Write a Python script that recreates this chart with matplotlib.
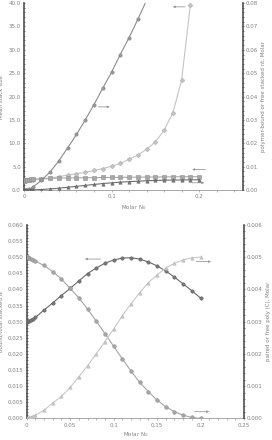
import matplotlib
matplotlib.use('Agg')
import matplotlib.pyplot as plt
from matplotlib.ticker import MultipleLocator, FuncFormatter

# ---- top panel data (x = Molar N0) ----
x_top = [0, 0.001, 0.002, 0.004, 0.006, 0.008, 0.01, 0.02, 0.03, 0.04, 0.05, 0.06, 0.07,
         0.08, 0.09, 0.1, 0.11, 0.12, 0.13, 0.14]
# polymer-bound stacked nt, Molar (right axis)
bound_nt = [0, 0.00001, 0.00004, 0.00015, 0.0003, 0.0006, 0.0012, 0.0042, 0.0078, 0.0126,
            0.0181, 0.0238, 0.0300, 0.0366, 0.0436, 0.0504, 0.0580, 0.0652, 0.0730, 0.0812]

x_stack = [0, 0.001, 0.002, 0.004, 0.006, 0.008, 0.01, 0.02, 0.03, 0.04, 0.05, 0.06, 0.07,
           0.08, 0.09, 0.1, 0.11, 0.12, 0.13, 0.14, 0.15, 0.16, 0.17, 0.18, 0.19]
# mean stack size (left axis)
stack_size = [2.0, 2.02, 2.04, 2.08, 2.12, 2.16, 2.2, 2.4, 2.6, 2.9, 3.2, 3.5, 3.8,
              4.2, 4.6, 5.1, 5.7, 6.6, 7.5, 8.7, 10.3, 12.8, 16.5, 23.5, 39.6]

x_flat = [0, 0.001, 0.002, 0.004, 0.006, 0.008, 0.01, 0.02, 0.03, 0.04, 0.05, 0.06, 0.07,
          0.08, 0.09, 0.1, 0.11, 0.12, 0.13, 0.14, 0.15, 0.16, 0.17, 0.18, 0.19, 0.2]
# second left-axis series
stack_flat = [2.0, 2.05, 2.1, 2.18, 2.24, 2.28, 2.3, 2.4, 2.5, 2.55, 2.6, 2.6, 2.65,
              2.65, 2.7, 2.7, 2.72, 2.74, 2.76, 2.78, 2.8, 2.82, 2.83, 2.84, 2.85, 2.86]
# free stacked nt, Molar (right axis)
free_nt = [0, 0.00001, 0.00002, 0.00004, 0.00006, 0.00008, 0.0001, 0.00024, 0.0005, 0.0008,
           0.0012, 0.0016, 0.002, 0.0024, 0.0028, 0.0031, 0.0034, 0.0036, 0.0038, 0.004,
           0.0041, 0.0042, 0.0043, 0.0043, 0.0044, 0.0044]

# ---- bottom panel data ----
x_bot = [0, 0.001, 0.002, 0.003, 0.005, 0.007, 0.01, 0.02, 0.03, 0.04, 0.05, 0.06, 0.07,
         0.08, 0.09, 0.1, 0.11, 0.12, 0.13, 0.14, 0.15, 0.16, 0.17, 0.18, 0.19, 0.2]
# bound/total stacked N (left axis)
bound_frac = [0.0300, 0.0301, 0.0302, 0.0303, 0.0305, 0.0308, 0.0313, 0.0336, 0.0358, 0.0381,
              0.0403, 0.0426, 0.0449, 0.0466, 0.0481, 0.0491, 0.0497, 0.0498, 0.0494, 0.0485,
              0.0473, 0.0457, 0.0438, 0.0417, 0.0396, 0.0373]
# paired poly(C), Molar (right axis)
paired = [0, 0.00001, 0.00002, 0.00003, 0.00005, 0.00007, 0.0001, 0.00025, 0.00048, 0.00068,
          0.00096, 0.00129, 0.00163, 0.0020, 0.00238, 0.00277, 0.00318, 0.00355, 0.0039, 0.00421,
          0.00445, 0.00466, 0.00481, 0.00491, 0.00498, 0.0050]
# free poly(C), Molar (right axis)
free_c = [0.0050, 0.00499, 0.00498, 0.00497, 0.00495, 0.00492, 0.00488, 0.00474, 0.00455,
          0.00432, 0.00403, 0.00374, 0.00339, 0.00302, 0.00263, 0.00224, 0.00185, 0.00147,
          0.00112, 0.00083, 0.00057, 0.00036, 0.00021, 0.0001, 0.00003, 0.0]

tick_col = '#808080'
spine_col = '#505050'


def style_axes(ax, ax2):
    for a in (ax, ax2):
        for s in a.spines.values():
            s.set_visible(False)
        a.tick_params(labelsize=4, colors=tick_col, length=1.5, width=0.5, pad=1.5)
        a.tick_params(which='minor', length=1.2, width=0.5, colors=spine_col)
    ax.spines['left'].set_visible(True)
    ax.spines['left'].set_color(spine_col)
    ax.spines['left'].set_linewidth(1.2)
    ax.spines['bottom'].set_visible(True)
    ax.spines['bottom'].set_color('#999999')
    ax.spines['bottom'].set_linewidth(0.6)
    ax2.spines['right'].set_visible(True)
    ax2.spines['right'].set_color(spine_col)
    ax2.spines['right'].set_linewidth(1.2)
    ax.tick_params(axis='y', which='both', direction='inout', colors=spine_col, labelcolor=tick_col)
    ax2.tick_params(axis='y', which='both', direction='inout', colors=spine_col, labelcolor=tick_col)
    ax.tick_params(axis='x', which='both', direction='out', colors='#999999', labelcolor=tick_col)


def arrow(ax, x0, x1, y):
    ax.annotate('', xy=(x1, y), xytext=(x0, y),
                arrowprops=dict(arrowstyle='-|>', color='#9a9a9a', lw=0.6,
                                mutation_scale=3, shrinkA=0, shrinkB=0))


def xfmt(v, pos):
    if abs(v) < 1e-9:
        return '0'
    return ('%.2f' % v).rstrip('0').rstrip('.')


fig = plt.figure(figsize=(2.72, 4.40), dpi=100)

# ---------------- top panel ----------------
ax = fig.add_axes([0.088, 0.568, 0.805, 0.425])
ax2 = ax.twinx()
ax.set_xlim(0, 0.25)
ax.set_ylim(0, 40)
ax2.set_ylim(0, 0.08)

ax.plot(x_stack, stack_size, color='#c4c4c4', lw=0.8, marker='D', ms=2.4,
        mfc='#c4c4c4', mec='#b0b0b0', mew=0.4, zorder=3)
ax.plot(x_flat, stack_flat, color='#a8a8a8', lw=0.8, marker='s', ms=2.4,
        mfc='#a8a8a8', mec='#909090', mew=0.4, zorder=3)
ax2.plot(x_top, bound_nt, color='#8c8c8c', lw=0.8, marker='o', ms=2.4,
         mfc='#9a9a9a', mec='#808080', mew=0.4, clip_on=True)
ax2.plot(x_flat, free_nt, color='#6e6e6e', lw=0.8, marker='^', ms=2.4,
         mfc='#7a7a7a', mec='#606060', mew=0.4)

ax.xaxis.set_major_locator(MultipleLocator(0.1))
ax.xaxis.set_minor_locator(MultipleLocator(0.02))
ax.xaxis.set_major_formatter(FuncFormatter(xfmt))
ax.yaxis.set_major_locator(MultipleLocator(5))
ax.yaxis.set_minor_locator(MultipleLocator(1))
ax.yaxis.set_major_formatter(FuncFormatter(lambda v, p: '%.1f' % v))
ax2.yaxis.set_major_locator(MultipleLocator(0.01))
ax2.yaxis.set_minor_locator(MultipleLocator(0.002))
ax2.yaxis.set_major_formatter(FuncFormatter(lambda v, p: '%.2f' % v))
style_axes(ax, ax2)

ax.set_ylabel('Mean stack size', fontsize=4, color=tick_col, labelpad=3)
ax2.set_ylabel('polymer-bound or free stacked nt, Molar', fontsize=4, color=tick_col, labelpad=2)
ax.set_xlabel('Molar N$_0$', fontsize=4, color=tick_col, labelpad=3)

arrow(ax, 0.085, 0.098, 17.8)
arrow(ax, 0.184, 0.170, 39.2)
arrow(ax, 0.207, 0.192, 4.4)
arrow(ax, 0.192, 0.206, 1.56)

# ---------------- bottom panel ----------------
bx = fig.add_axes([0.098, 0.049, 0.799, 0.44])
bx2 = bx.twinx()
bx.set_xlim(0, 0.25)
bx.set_ylim(0, 0.06)
bx2.set_ylim(0, 0.006)

bx.plot(x_bot, bound_frac, color='#6a6a6a', lw=0.8, marker='o', ms=2.4,
        mfc='#7a7a7a', mec='#5a5a5a', mew=0.4, zorder=3)
bx2.plot(x_bot, free_c, color='#a6a6a6', lw=0.8, marker='o', ms=2.6,
         mfc='#a6a6a6', mec='#939393', mew=0.4)
bx2.plot(x_bot, paired, color='#c8c8c8', lw=0.8, marker='^', ms=2.4,
         mfc='#c8c8c8', mec='#b8b8b8', mew=0.4)

bx.xaxis.set_major_locator(MultipleLocator(0.05))
bx.xaxis.set_minor_locator(MultipleLocator(0.01))
bx.xaxis.set_major_formatter(FuncFormatter(xfmt))
bx.yaxis.set_major_locator(MultipleLocator(0.005))
bx.yaxis.set_minor_locator(MultipleLocator(0.001))
bx.yaxis.set_major_formatter(FuncFormatter(lambda v, p: '%.3f' % v))
bx2.yaxis.set_major_locator(MultipleLocator(0.001))
bx2.yaxis.set_minor_locator(MultipleLocator(0.0002))
bx2.yaxis.set_major_formatter(FuncFormatter(lambda v, p: '%.3f' % v))
style_axes(bx, bx2)

bx.set_ylabel('bound/total stacked N', fontsize=4, color=tick_col, labelpad=3)
bx2.set_ylabel('paired or free poly (C), Molar', fontsize=4, color=tick_col, labelpad=2)
bx.set_xlabel('Molar N$_0$', fontsize=4, color=tick_col, labelpad=2)

arrow(bx, 0.085, 0.067, 0.0494)
arrow(bx, 0.195, 0.212, 0.0486)
arrow(bx, 0.193, 0.210, 0.0021)

fig.savefig('out.png', dpi=100)
plt.close(fig)
